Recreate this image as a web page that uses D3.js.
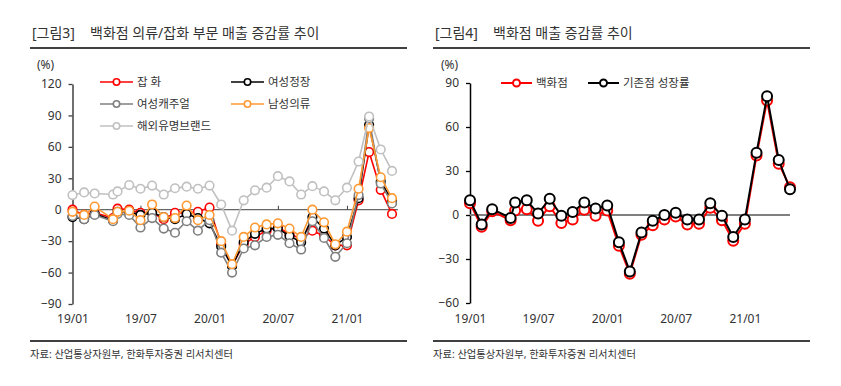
<!DOCTYPE html>
<html><head><meta charset="utf-8">
<script src="https://cdn.jsdelivr.net/npm/d3@7"></script>
<style>
html,body{margin:0;padding:0;background:#fff;}
svg{display:block;}
text{font-family:"Noto Sans","Noto Sans CJK KR",sans-serif;fill:#333;}
</style></head>
<body>
<svg id="chart" width="841" height="386"></svg>
<script>
// ---- data ----
const dates = ["2019-01-01","2019-02-01","2019-03-01","2019-04-19","2019-05-01","2019-06-01","2019-07-01","2019-08-01","2019-09-01","2019-10-01","2019-11-01","2019-12-01",
  "2020-01-01","2020-02-01","2020-03-01","2020-04-01","2020-05-01","2020-06-01","2020-07-01","2020-08-01","2020-09-01","2020-10-01","2020-11-01","2020-12-01",
  "2021-01-01","2021-02-01","2021-03-01","2021-04-01","2021-05-01"];
const xTickLabels = ["19/01","19/07","20/01","20/07","21/01"];
const xTickDates = ["2019-01-01","2019-07-01","2020-01-01","2020-07-01","2021-01-01"];

// 그림3
const japhwa   = [0,-5,-3,-8,1,0,-3,-3,-9,-3,-3,-2,2,-33,-53,-33,-26,-20,-17,-23,-28,-20,-25,-34,-34,9,55,19,-4];
const jeongjang= [-7,-9,-4,-10,-2,-2,-5,-3,-7,-9,-4,-8,-13,-35,-54,-31,-23,-18,-18,-25,-31,-7,-18,-34,-26,11,81,27,9];
const casual   = [-6,-9,-5,-11,-4,-5,-17,-8,-18,-22,-11,-20,-10,-41,-60,-37,-34,-26,-24,-32,-38,-11,-27,-45,-32,14,87,25,6];
const namseong = [-2,-5,3,-9,-2,-1,-10,5,-7,-8,4,-10,-5,-30,-52,-26,-17,-14,-13,-18,-26,0,-12,-33,-21,20,78,31,11];
const haeoe    = [14,16.5,15.5,14.5,17.5,23.5,20,23,14.5,20.5,22,20,23,5,-20,9,18.5,21,32,27,14.5,22.5,17.5,9,21,46,89,57.5,37];
const leftYTicks = [120,90,60,30,0,-30,-60,-90];

// 그림4
const dept     = [8,-8,2.5,-3.5,3,4,-4,6,-5.5,-3,3.5,-0.5,3,-21,-40,-13.5,-7,-3,-1,-6.5,-6,5,-3.5,-17.5,-6,40.5,78,35,19];
const existing = [10,-6.5,4,-2,8.5,10,1,11,-0.5,2,8.5,4.5,6.5,-18.5,-38.5,-12,-4,0,1.5,-3,-3,8,-0.5,-15,-3,42.5,81,37.5,17.5];
const rightYTicks = [90,60,30,0,-30,-60];

const parse = d3.timeParse("%Y-%m-%d");
const X = dates.map(parse);

const svg = d3.select("#chart");
svg.append("rect").attr("width",841).attr("height",386).attr("fill","#fff");

function header(x0, x1, tag, tagX, title, titleX){
  svg.append("text").attr("x",tagX).attr("y",38).attr("font-size",14).text(tag);
  svg.append("text").attr("x",titleX).attr("y",38).attr("font-size",14).text(title);
  svg.append("line").attr("x1",x0).attr("x2",x1).attr("y1",48).attr("y2",48).attr("stroke","#000").attr("stroke-width",1.3);
  svg.append("line").attr("x1",x0).attr("x2",x1).attr("y1",341).attr("y2",341).attr("stroke","#000").attr("stroke-width",1.3);
  svg.append("text").attr("x",x0).attr("y",358).attr("font-size",10.3).text("자료: 산업통상자원부, 한화투자증권 리서치센터");
}

function panel(opts){
  const x = d3.scaleTime().domain([X[0], X[X.length-1]]).range(opts.xr);
  const y = d3.scaleLinear().domain(opts.yd).range(opts.yr);
  const g = svg.append("g");
  g.append("text").attr("x",opts.unitX).attr("y",69).attr("font-size",12).text("(%)");
  const ya = g.append("g").attr("transform",`translate(${opts.xr[0]},0)`)
    .call(d3.axisLeft(y).tickValues(opts.yTicks).tickSize(4).tickSizeOuter(0).tickPadding(7).tickFormat(d3.format("d")));
  ya.selectAll("text").attr("font-size",12).attr("fill","#333").attr("font-family",'"Noto Sans","Noto Sans CJK KR",sans-serif');
  ya.selectAll("line").attr("stroke",opts.axisColor).attr("stroke-width",1.3);
  ya.select(".domain").attr("stroke",opts.axisColor).attr("stroke-width",1.5);
  g.append("line").attr("x1",opts.xr[0]).attr("x2",opts.zeroEnd).attr("y1",y(0)).attr("y2",y(0))
    .attr("stroke",opts.zeroColor).attr("stroke-width",opts.zeroWidth);
  if(opts.zeroTicks){
    const za = g.append("g").attr("transform",`translate(0,${y(0)})`)
      .call(d3.axisTop(x).tickValues(xTickDates.map(parse)).tickSize(4).tickFormat(""));
    za.select(".domain").remove();
    za.selectAll("line").attr("stroke",opts.zeroColor).attr("stroke-width",1);
  }
  const xa = g.append("g").attr("transform",`translate(0,${opts.xLabelY})`)
    .call(d3.axisBottom(x).tickValues(xTickDates.map(parse)).tickSize(0).tickPadding(0)
      .tickFormat((d,i)=>xTickLabels[i]));
  xa.select(".domain").remove();
  xa.selectAll("text").attr("font-size",12).attr("fill","#333").attr("font-family",'"Noto Sans","Noto Sans CJK KR",sans-serif');

  const line = d3.line().x((d,i)=>x(X[i])).y(d=>y(d));
  opts.series.forEach(s=>{
    const sg = g.append("g");
    sg.append("path").datum(s.values).attr("d",line).attr("fill","none")
      .attr("stroke",s.color).attr("stroke-width",opts.lw).attr("stroke-linejoin","round");
    sg.selectAll("circle").data(s.values).join("circle")
      .attr("cx",(d,i)=>x(X[i])).attr("cy",d=>y(d)).attr("r",opts.r)
      .attr("fill","#fff").attr("stroke",s.color).attr("stroke-width",opts.mw);
  });
  opts.legend.forEach(L=>{
    const s = opts.series.find(z=>z.name===L.name);
    g.append("line").attr("x1",L.x).attr("x2",L.x+L.len).attr("y1",L.y).attr("y2",L.y)
      .attr("stroke",s.color).attr("stroke-width",opts.lw);
    g.append("circle").attr("cx",L.x+L.len/2).attr("cy",L.y).attr("r",opts.lr)
      .attr("fill","#fff").attr("stroke",s.color).attr("stroke-width",opts.mw);
    g.append("text").attr("x",L.x+L.len+4).attr("y",L.y).attr("dy","0.35em").attr("font-size",11.5).text(s.name);
  });
}

header(30, 407, "[그림3]", 32, "백화점 의류/잡화 부문 매출 증감률 추이", 90);
header(433, 810, "[그림4]", 435, "백화점 매출 증감률 추이", 493);

panel({
  xr:[72.5,392], yd:[-90,120], yr:[304,84], yTicks:leftYTicks, unitX:37,
  axisColor:"#404040", zeroColor:"#404040", zeroWidth:1, zeroEnd:398, zeroTicks:true,
  xLabelY:314, lw:1.6, mw:1.6, r:4.3, lr:3.2,
  series:[
    {name:"잡 화", values:japhwa, color:"#ff0000"},
    {name:"여성정장", values:jeongjang, color:"#000000"},
    {name:"여성캐주얼", values:casual, color:"#7f7f7f"},
    {name:"남성의류", values:namseong, color:"#ff9933"},
    {name:"해외유명브랜드", values:haeoe, color:"#c0c0c0"}
  ],
  legend:[
    {name:"잡 화", x:100, y:82, len:33},
    {name:"여성정장", x:231, y:82, len:33},
    {name:"여성캐주얼", x:100, y:104, len:33},
    {name:"남성의류", x:231, y:104, len:33},
    {name:"해외유명브랜드", x:100, y:126, len:33}
  ]
});

panel({
  xr:[470,790], yd:[-60,90], yr:[303,83], yTicks:rightYTicks, unitX:441,
  axisColor:"#000", zeroColor:"#808080", zeroWidth:2, zeroEnd:790, zeroTicks:false,
  xLabelY:314, lw:2, mw:2, r:5, lr:3.5,
  series:[
    {name:"백화점", values:dept, color:"#ff0000"},
    {name:"기존점 성장률", values:existing, color:"#000000"}
  ],
  legend:[
    {name:"백화점", x:501, y:83, len:31},
    {name:"기존점 성장률", x:588, y:83, len:31}
  ]
});
</script>
</body></html>
